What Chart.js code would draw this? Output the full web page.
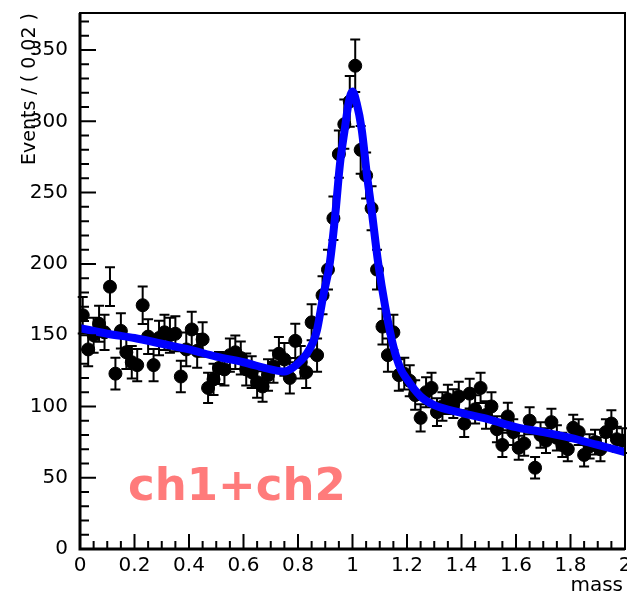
<!DOCTYPE html>
<html lang="en">
<head>
<meta charset="UTF-8">
<title>ch1+ch2 mass fit</title>
<style>
  html, body { margin: 0; padding: 0; background: #fff; }
  #plot { display: block; }
</style>
</head>
<body>
<canvas id="plot" width="627" height="592"></canvas>
<script src="https://cdn.jsdelivr.net/npm/chart.js@4/dist/chart.umd.min.js"></script>
<script>
// bin centres (bin width 0.02) and counts per bin
const massBins = [
  0.01, 0.03, 0.05, 0.07, 0.09, 0.11, 0.13, 0.15, 0.17, 0.19,
  0.21, 0.23, 0.25, 0.27, 0.29, 0.31, 0.33, 0.35, 0.37, 0.39,
  0.41, 0.43, 0.45, 0.47, 0.49, 0.51, 0.53, 0.55, 0.57, 0.59,
  0.61, 0.63, 0.65, 0.67, 0.69, 0.71, 0.73, 0.75, 0.77, 0.79,
  0.81, 0.83, 0.85, 0.87, 0.89, 0.91, 0.93, 0.95, 0.97, 0.99,
  1.01, 1.03, 1.05, 1.07, 1.09, 1.11, 1.13, 1.15, 1.17, 1.19,
  1.21, 1.23, 1.25, 1.27, 1.29, 1.31, 1.33, 1.35, 1.37, 1.39,
  1.41, 1.43, 1.45, 1.47, 1.49, 1.51, 1.53, 1.55, 1.57, 1.59,
  1.61, 1.63, 1.65, 1.67, 1.69, 1.71, 1.73, 1.75, 1.77, 1.79,
  1.81, 1.83, 1.85, 1.87, 1.89, 1.91, 1.93, 1.95, 1.97, 1.99
];
const events = [
  164, 140, 150, 158, 152, 184, 123, 153, 138, 131,
  129, 171, 149, 129, 148, 152, 150, 151, 121, 140,
  154, 139, 147, 113, 119, 127, 126, 136, 138, 134,
  126, 124, 117, 114, 122, 128, 137, 133, 120, 146,
  131, 124, 159, 136, 178, 196, 232, 277, 298, 314,
  339, 280, 262, 239, 196, 156, 136, 152, 122, 123,
  118, 108, 92, 110, 113, 96, 100, 105, 102, 107,
  88, 109, 98, 113, 94, 100, 84, 73, 93, 82,
  71, 74, 90, 57, 80, 76, 89, 78, 73, 70,
  85, 82, 66, 72, 75, 70, 82, 88, 77, 76
];

// fitted curve
const fitMass = [
  0, 0.1, 0.2, 0.3, 0.4, 0.5, 0.6, 0.7, 0.75, 0.78, 0.807, 0.832, 0.855, 0.869,
  0.892, 0.917, 0.936, 0.954, 0.972, 0.986, 1.0, 1.015, 1.034, 1.052, 1.07,
  1.094, 1.12, 1.15, 1.175, 1.2, 1.25, 1.3, 1.4, 1.5, 1.6, 1.7, 1.8, 1.9, 2.0
];
const fitEvents = [
  155, 151, 148, 144, 140, 135, 131, 126, 124.5, 127, 131.5, 137, 145, 153,
  177, 201, 233, 270, 295, 313, 321, 313, 294, 264, 238,
  201, 170, 142, 127, 119, 107, 101, 95.5, 91, 85.5, 82, 78, 73, 68
];

const xTicks = [0, 0.2, 0.4, 0.6, 0.8, 1, 1.2, 1.4, 1.6, 1.8, 2];
const yTicks = [0, 50, 100, 150, 200, 250, 300, 350];

const yTitle = 'Events / ( 0.02 )';
const xTitle = 'mass';
const tag = 'ch1+ch2';

function noPadding(scale) {
  scale.paddingLeft = 0;
  scale.paddingRight = 0;
  scale.paddingTop = 0;
  scale.paddingBottom = 0;
}

const rootStyle = {
  id: 'rootStyle',
  beforeDatasetsDraw(chart) {
    // poisson error bars under the markers
    const { ctx, scales: { x, y } } = chart;
    ctx.save();
    ctx.strokeStyle = '#000';
    ctx.lineWidth = 2;
    massBins.forEach((m, i) => {
      const err = Math.sqrt(events[i]);
      const px = x.getPixelForValue(m);
      const top = y.getPixelForValue(events[i] + err);
      const bot = y.getPixelForValue(events[i] - err);
      ctx.beginPath();
      ctx.moveTo(px, top); ctx.lineTo(px, bot);
      ctx.moveTo(px - 5, top); ctx.lineTo(px + 5, top);
      ctx.moveTo(px - 5, bot); ctx.lineTo(px + 5, bot);
      ctx.stroke();
    });
    ctx.restore();
  },
  afterDraw(chart) {
    const { ctx, chartArea: a, scales: { x, y } } = chart;
    ctx.save();
    ctx.strokeStyle = '#000';

    // frame
    ctx.lineWidth = 2;
    ctx.strokeRect(a.left, a.top, a.right - a.left, a.bottom - a.top);
    ctx.lineWidth = 3;
    ctx.beginPath();
    ctx.moveTo(a.left, a.top); ctx.lineTo(a.left, a.bottom); ctx.lineTo(a.right, a.bottom);
    ctx.stroke();

    // inward ticks
    ctx.lineWidth = 2;
    ctx.beginPath();
    for (let v = 0; v <= 370; v += 10) {
      const py = y.getPixelForValue(v);
      const len = v % 50 === 0 ? 16 : 9;
      ctx.moveTo(a.left, py); ctx.lineTo(a.left + len, py);
    }
    for (let k = 0; k <= 40; k++) {
      const px = x.getPixelForValue(k * 0.05);
      const len = k % 4 === 0 ? 15 : 8;
      ctx.moveTo(px, a.bottom); ctx.lineTo(px, a.bottom - len);
    }
    ctx.stroke();

    // axis titles
    ctx.fillStyle = '#000';
    ctx.font = '20px "DejaVu Sans"';
    ctx.textAlign = 'right';
    ctx.textBaseline = 'alphabetic';
    ctx.fillText(xTitle, 623, 591);
    ctx.font = '19px "DejaVu Sans"';
    ctx.translate(35, a.top);
    ctx.rotate(-Math.PI / 2);
    ctx.fillText(yTitle, 0, 0);
    ctx.restore();

    // channel tag
    ctx.save();
    ctx.fillStyle = '#ff7b7b';
    ctx.font = 'bold 45px "DejaVu Sans"';
    ctx.textAlign = 'left';
    ctx.textBaseline = 'alphabetic';
    ctx.fillText(tag, 128, 500);
    ctx.restore();
  }
};

new Chart(document.getElementById('plot'), {
  type: 'scatter',
  data: {
    datasets: [{
      label: 'data',
      data: massBins.map((m, i) => ({ x: m, y: events[i] })),
      backgroundColor: '#000',
      borderColor: '#000',
      pointRadius: 6.5,
      pointHoverRadius: 6.5,
      order: 2
    }, {
      label: 'fit',
      data: fitMass.map((m, i) => ({ x: m, y: fitEvents[i] })),
      showLine: true,
      borderColor: '#0000ff',
      borderWidth: 8,
      pointRadius: 0,
      cubicInterpolationMode: 'monotone',
      order: 1
    }]
  },
  options: {
    responsive: false,
    animation: false,
    events: [],
    layout: { autoPadding: false, padding: { top: 13, right: 2, left: 0, bottom: 0 } },
    plugins: { legend: { display: false }, tooltip: { enabled: false } },
    scales: {
      x: {
        type: 'linear',
        min: 0,
        max: 2,
        grid: { display: false },
        border: { display: false },
        afterFit(scale) { scale.height = 43; noPadding(scale); },
        afterBuildTicks(scale) { scale.ticks = xTicks.map(v => ({ value: v })); },
        ticks: {
          autoSkip: false,
          maxRotation: 0,
          padding: -3,
          color: '#000',
          font: { family: 'DejaVu Sans', size: 20 },
          callback: v => String(+v.toFixed(1))
        }
      },
      y: {
        type: 'linear',
        min: 0,
        max: 376,
        grid: { display: false },
        border: { display: false },
        afterFit(scale) { scale.width = 80; noPadding(scale); },
        afterBuildTicks(scale) { scale.ticks = yTicks.map(v => ({ value: v })); },
        ticks: {
          autoSkip: false,
          padding: 4,
          color: '#000',
          font: { family: 'DejaVu Sans', size: 20 },
          callback: v => String(v)
        }
      }
    }
  },
  plugins: [rootStyle]
});
</script>
</body>
</html>
